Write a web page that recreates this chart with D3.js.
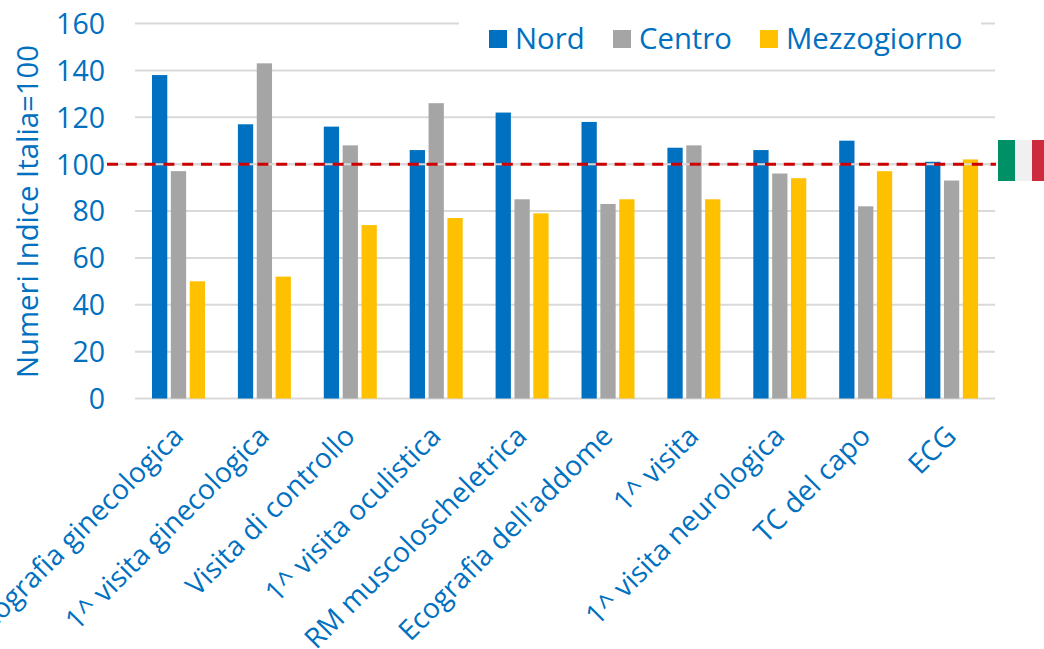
<!DOCTYPE html>
<html>
<head>
<meta charset="utf-8">
<script src="https://cdn.jsdelivr.net/npm/d3@7"></script>
<style>
  html, body { margin: 0; padding: 0; background: #fff; overflow: hidden; }
  svg { display: block; font-family: "Open Sans", sans-serif; }
  .grid line { stroke: #d9d9d9; stroke-width: 2px; }
  .tick-label { fill: #0070c0; }
</style>
</head>
<body>
<svg id="chart" width="1044" height="649"></svg>
<script>
const categories = ["Ecografia ginecologica", "1^ visita ginecologica", "Visita di controllo", "1^ visita oculistica", "RM muscoloscheletrica", "Ecografia dell'addome", "1^ visita", "1^ visita neurologica", "TC del capo", "ECG"];
const nord = [138, 117, 116, 106, 122, 118, 107, 106, 110, 101];
const centro = [97, 143, 108, 126, 85, 83, 108, 96, 82, 93];
const mezzogiorno = [50, 52, 74, 77, 79, 85, 85, 94, 97, 102];
const seriesNames = ["Nord", "Centro", "Mezzogiorno"];
const seriesColors = ["#0070c0", "#a5a5a5", "#ffc000"];
const yTicks = [0, 20, 40, 60, 80, 100, 120, 140, 160];
const reference = 100;

const svg = d3.select("#chart");
const textColor = "#0070c0";

const x = d3.scaleBand().domain(categories).range([135, 994]);
const y = d3.scaleLinear().domain([0, 160]).range([398.5, 23.5]);
const xSeries = d3.scaleBand().domain(seriesNames).range([17, 70]).paddingInner(0.19).paddingOuter(0);

// gridlines
svg.append("g").attr("class", "grid")
  .selectAll("line").data(yTicks).join("line")
  .attr("x1", 135).attr("x2", 995)
  .attr("y1", d => y(d)).attr("y2", d => y(d));

// y axis labels
const yAxis = d3.axisLeft(y).tickValues(yTicks).tickSize(0).tickPadding(0);
const yG = svg.append("g").attr("transform", "translate(105,0)").call(yAxis);
yG.select(".domain").remove();
yG.selectAll("text").attr("class", "tick-label").attr("x", 0).attr("dy", "0.35em")
  .style("font-size", "28.5px").style("font-family", '"Open Sans", sans-serif');

svg.append("text")
  .attr("transform", "translate(38,211.5) rotate(-90)")
  .attr("text-anchor", "middle")
  .attr("fill", textColor)
  .style("font-size", "29.3px")
  .text("Numeri Indice Italia=100");

// bars
const seriesValues = [nord, centro, mezzogiorno];
seriesNames.forEach((name, i) => {
  svg.append("g").selectAll("rect").data(seriesValues[i]).join("rect")
    .attr("x", (d, j) => x(categories[j]) + xSeries(name))
    .attr("width", xSeries.bandwidth())
    .attr("y", d => y(d))
    .attr("height", d => y(0) - y(d))
    .attr("fill", seriesColors[i]);
});

// reference line, starts left of the plot next to the 100 label
svg.append("line")
  .attr("x1", 107).attr("x2", 996)
  .attr("y1", y(reference)).attr("y2", y(reference))
  .attr("stroke", "#d9d9d9").attr("stroke-width", 2);
svg.append("line")
  .attr("x1", 107).attr("x2", 996)
  .attr("y1", y(reference)).attr("y2", y(reference))
  .attr("stroke", "#cc0000").attr("stroke-width", 3)
  .attr("stroke-dasharray", "11 7.8");

// category labels
svg.append("g").selectAll("text").data(categories).join("text")
  .attr("transform", d => `translate(${x(d) + x.bandwidth() / 2},431) rotate(-45)`)
  .attr("text-anchor", "end")
  .attr("dy", "0.35em")
  .attr("fill", textColor)
  .style("font-size", "28px")
  .text(d => d);

// legend, sits on a white box that cuts the top gridline
svg.append("rect").attr("x", 459).attr("y", 12).attr("width", 522).attr("height", 48).attr("fill", "#fff");
const legendX = [489, 613, 760];
seriesNames.forEach((name, i) => {
  svg.append("rect").attr("x", legendX[i]).attr("y", 30).attr("width", 18).attr("height", 18).attr("fill", seriesColors[i]);
  svg.append("text").attr("x", legendX[i] + 26).attr("y", 48.5)
    .attr("fill", textColor).style("font-size", "29.3px").text(name);
});

// flag
const flagColors = ["#009066", "#f0f0f0", "#cd2a3e"];
const flagX = d3.scaleBand().domain(d3.range(3)).range([998, 1049]);
svg.append("g").selectAll("rect").data(flagColors).join("rect")
  .attr("x", (d, i) => flagX(i)).attr("y", 140)
  .attr("width", flagX.bandwidth()).attr("height", 41)
  .attr("fill", d => d);
</script>
</body>
</html>
